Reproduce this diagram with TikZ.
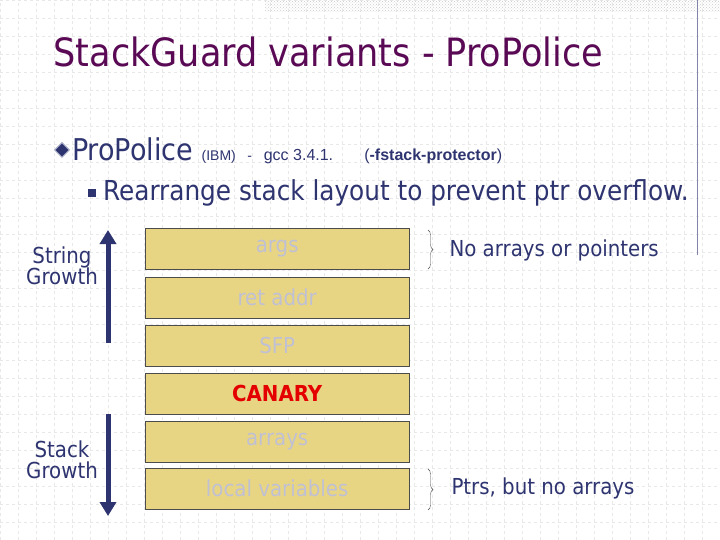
\documentclass[tikz,border=0pt]{standalone}
\usepackage{fontspec}
\setmainfont{DejaVu Sans Condensed}
\newfontfamily\arialf{Liberation Sans}
\usetikzlibrary{decorations.pathreplacing,arrows.meta,patterns,shapes.geometric}
\definecolor{navy}{HTML}{2E3470}
\definecolor{ttl}{HTML}{5A0A55}
\definecolor{boxf}{HTML}{E8D584}
\definecolor{ghost}{HTML}{C0C0D4}
\begin{document}
\begin{tikzpicture}[x=1pt,y=-1pt,
  slot/.style={draw=black!70,fill=boxf,minimum width=264pt,minimum height=41pt,inner sep=0pt,font=\fontsize{22}{26}\selectfont,text=ghost},
  lbl/.style={text=navy,font=\fontsize{22}{24}\selectfont,align=center},
  growarrow/.style={navy,line width=5pt,-{Triangle[length=14pt,width=16pt]}},
  brc/.style={decorate,decoration={brace,amplitude=5pt},draw=black!70,thin}]
\useasboundingbox (0,0) rectangle (720,540);
\fill[white] (0,0) rectangle (720,540);
\draw[black!9,dashed,very thin] (0,0) grid[step=18pt] (720,540);
\fill[pattern=crosshatch dots,pattern color=black!20] (265,0) rectangle (720,12);
\draw[navy!60] (697,0) -- (697,255);
\node[anchor=west,text=ttl,font=\fontsize{39}{44}\selectfont] (title) at (50,52) {StackGuard variants - ProPolice};
\node[diamond,fill=navy,draw=navy!40,line width=1pt,minimum width=15pt,minimum height=15pt,inner sep=0pt] (dia) at (62,150) {};
\node[anchor=west,text=navy,inner sep=0pt] (pp) at (72,151) {\fontsize{30}{34}\selectfont ProPolice \arialf\fontsize{14}{16}\selectfont(IBM)\ \ \ -\ \ \ \fontsize{16}{18}\selectfont gcc 3.4.1.\ \ \ \ \ \ \ (\textbf{-fstack-protector})};
\fill[navy] (88,189) rectangle (96,197);
\node[anchor=west,text=navy,inner sep=0pt,font=\fontsize{27.5}{30}\selectfont] (re) at (103,193) {Rearrange stack layout to prevent ptr overflow.};
\node[slot,anchor=north west] (args) at (145,228) {args};
\node[slot,anchor=north west] (ret) at (145,277) {ret addr};
\node[slot,anchor=north west] (sfp) at (145,325) {SFP};
\node[slot,anchor=north west,text=red!90!black,font=\fontsize{22}{26}\selectfont\bfseries] (can) at (145,373) {CANARY};
\node[slot,anchor=north west] (arr) at (145,421) {arrays};
\node[slot,anchor=north west] (loc) at (145,468) {local variables};
\coordinate (u0) at (108,343); \coordinate (u1) at (108,230);
\coordinate (d0) at (108,414); \coordinate (d1) at (108,516);
\draw[growarrow] (u0) -- (u1);
\draw[growarrow] (d0) -- (d1);
\node[lbl] (sg) at (62,266) {String\\[-3pt]Growth};
\node[lbl] (stg) at (62,460) {Stack\\[-3pt]Growth};
\coordinate (b1) at (428,230); \coordinate (b2) at (428,269);
\draw[brc] (b1) -- (b2);
\node[lbl,anchor=west] (no) at (446,250) {No arrays or pointers};
\coordinate (b3) at (428,469); \coordinate (b4) at (428,510);
\draw[brc] (b3) -- (b4);
\node[lbl,anchor=west] (pt) at (448,488) {Ptrs, but no arrays};
\end{tikzpicture}
\end{document}
